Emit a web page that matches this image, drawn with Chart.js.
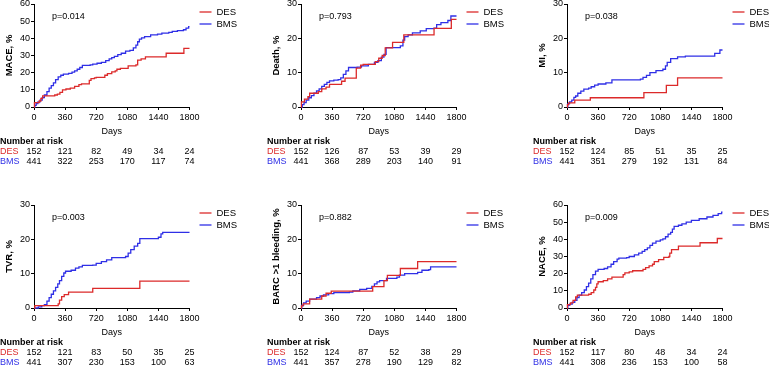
<!DOCTYPE html>
<html>
<head>
<meta charset="utf-8">
<script src="https://cdn.jsdelivr.net/npm/chart.js@4.4.1/dist/chart.umd.min.js"></script>
<style>
  html, body { margin: 0; padding: 0; background: #fff; overflow: hidden; }
  body { width: 769px; height: 367px; position: relative; }
  canvas { position: absolute; }
</style>
</head>
<body>
<canvas id="mace" width="256" height="170" style="left:0px;top:0px"></canvas>
<canvas id="death" width="256" height="170" style="left:267px;top:0px"></canvas>
<canvas id="mi" width="256" height="170" style="left:533px;top:0px"></canvas>
<canvas id="tvr" width="256" height="170" style="left:0px;top:201px"></canvas>
<canvas id="barc" width="256" height="170" style="left:267px;top:201px"></canvas>
<canvas id="nace" width="256" height="170" style="left:533px;top:201px"></canvas>
<script>
const FONT = '"Liberation Sans", Arial, Helvetica, sans-serif';
const RED = '#dc2a2a';
const BLUE = '#2f2fe6';

// x axis ticks (days), also the columns of the number-at-risk table
const dayTicks = [0, 360, 720, 1080, 1440, 1800];
const groups = ['DES', 'BMS'];

// cumulative event curves, [day, %] = level reached at that day
const maceDES = [[0,0],[5,2.5],[60,3.5],[80,5],[100,6.5],[240,7],[270,7.5],[300,8.5],[330,10],[370,10.5],[420,11],[470,12],[520,13],[550,13.5],[640,15.5],[660,16.5],[700,17],[720,17.3],[820,18.5],[850,19.5],[900,20.5],[940,21],[960,22],[1000,22.5],[1090,24],[1180,24.5],[1200,27.3],[1240,28],[1290,29.2],[1530,31.3],[1735,34.2],[1800,34.2]];
const maceBMS = [[0,0],[10,1],[25,2],[45,3],[70,4],[95,5.5],[120,7],[150,9],[175,11],[200,12.5],[225,14],[250,16],[280,17.5],[310,18.5],[340,19.2],[400,19.6],[440,20.3],[470,21],[500,22],[530,23],[560,24.3],[650,24.5],[680,25],[730,25.5],[780,26],[830,27],[870,28],[900,28.8],[930,29.5],[970,30.5],[1010,31.3],[1060,32.5],[1110,33],[1150,34.5],[1180,36],[1200,38],[1220,39.5],[1245,40.3],[1280,41],[1350,42],[1430,42.5],[1480,43],[1560,43.5],[1600,44],[1660,44.5],[1730,45],[1760,46],[1790,46.8],[1800,46.8]];

const deathDES = [[0,0],[5,1.5],[40,2.3],[80,3],[100,4],[200,4.5],[240,5.3],[290,5.8],[330,6.6],[470,7.5],[510,8.4],[640,11.3],[690,12.2],[720,12.4],[860,13.2],[900,14.2],[940,15],[975,17.2],[1060,18.8],[1190,21],[1540,22.9],[1740,25.5],[1800,25.5]];
const deathBMS = [[0,0],[15,0.7],[35,1.3],[60,2],[90,2.7],[120,3.3],[150,4],[180,4.7],[210,5.3],[240,6],[270,6.6],[300,7.2],[330,7.6],[380,7.8],[430,8],[460,8.5],[490,9.5],[520,10.5],[550,11.5],[650,11.6],[700,12],[780,12.4],[850,13],[890,13.5],[930,14.5],[960,15.3],[985,17.3],[1150,17.8],[1180,19.5],[1200,20.5],[1240,21],[1290,21.6],[1380,22.2],[1450,22.8],[1540,23],[1570,24],[1620,24.6],[1700,25.2],[1735,26.5],[1800,26.5]];

const miDES = [[0,0],[5,0.7],[20,1.2],[90,2],[270,2.7],[890,4.2],[1150,6.3],[1280,8.5],[1800,8.5]];
const miBMS = [[0,0],[10,1],[30,1.5],[55,2],[80,2.8],[100,3.2],[125,4],[160,4.6],[195,5.2],[250,5.5],[280,5.9],[320,6.4],[360,6.7],[450,7],[520,7.9],[850,8.1],[880,8.6],[920,9.2],[960,10],[1030,10.6],[1110,11],[1140,12],[1160,13],[1200,14.1],[1280,14.6],[1370,14.8],[1710,15.6],[1770,16.6],[1800,16.6]];

const tvrDES = [[0,0],[10,0.7],[280,1.2],[295,2.3],[320,3.3],[350,3.9],[400,4.6],[680,5.7],[1225,7.8],[1800,7.8]];
const tvrBMS = [[0,0],[50,0.3],[90,0.7],[120,1],[150,2],[175,3],[200,4],[225,5],[250,6],[275,7],[295,8],[320,9.2],[345,10.2],[365,10.7],[430,11],[480,11.6],[520,12],[560,12.4],[680,12.5],[720,13],[780,13.5],[840,14],[900,14.7],[1060,15],[1090,16],[1120,17],[1160,18],[1200,18.8],[1225,20.2],[1440,20.6],[1470,21.6],[1490,22],[1800,22]];

const barcDES = [[0,0],[5,0.6],[25,1.2],[100,2.6],[240,3.5],[290,4.3],[350,4.9],[830,6.2],[960,8],[1000,9.5],[1150,11.5],[1350,13.5],[1800,13.5]];
const barcBMS = [[0,0],[10,0.8],[30,1.5],[60,2],[100,2.6],[180,3],[220,3.5],[260,3.8],[320,4.2],[380,4.5],[560,4.6],[600,5],[680,5.4],[760,5.7],[820,6.3],[850,7],[880,7.6],[910,8],[990,8.6],[1110,9],[1140,9.6],[1200,10],[1350,10.4],[1400,11],[1480,11.2],[1500,12],[1800,12]];

const naceDES = [[0,0],[5,2],[40,3],[70,4.5],[100,6.5],[120,7.5],[250,8],[280,9],[310,10.5],[330,12],[345,14],[360,15.3],[420,16],[470,17],[520,18],[650,19.5],[670,20.5],[720,21],[760,21.7],[880,22.5],[910,23.5],[950,24.5],[990,25.5],[1010,27],[1060,28.2],[1120,29.5],[1180,30],[1190,32],[1210,34],[1290,36],[1540,38],[1740,40.5],[1800,40.5]];
const naceBMS = [[0,0],[10,1.5],[30,2.3],[60,3.3],[90,4.5],[115,6],[140,7.5],[170,9],[200,10.5],[225,12.5],[250,14.5],[275,17],[300,19.5],[330,21.5],[360,22.5],[430,23],[470,24],[510,25.5],[540,27],[580,28.5],[600,29],[690,29.3],[720,30],[780,31],[830,32],[870,33],[900,34],[930,35],[960,36.5],[990,37.8],[1030,39],[1080,39.7],[1110,40.3],[1140,41.5],[1170,43],[1200,44],[1220,46],[1240,47.5],[1290,48.2],[1330,49],[1380,50],[1440,51],[1530,52],[1620,53],[1690,54],[1750,55],[1790,55.8],[1800,55.8]];

// number at risk at each dayTicks column
const maceRiskDES = [152, 121, 82, 49, 34, 24];
const maceRiskBMS = [441, 322, 253, 170, 117, 74];
const deathRiskDES = [152, 126, 87, 53, 39, 29];
const deathRiskBMS = [441, 368, 289, 203, 140, 91];
const miRiskDES = [152, 124, 85, 51, 35, 25];
const miRiskBMS = [441, 351, 279, 192, 131, 84];
const tvrRiskDES = [152, 121, 83, 50, 35, 25];
const tvrRiskBMS = [441, 307, 230, 153, 100, 63];
const barcRiskDES = [152, 124, 87, 52, 38, 29];
const barcRiskBMS = [441, 357, 278, 190, 129, 82];
const naceRiskDES = [152, 117, 80, 48, 34, 24];
const naceRiskBMS = [441, 308, 236, 153, 100, 58];

const yTitles = ['MACE, %', 'Death, %', 'MI, %', 'TVR, %', 'BARC >1 bleeding, %', 'NACE, %'];
const pValues = ['p=0.014', 'p=0.793', 'p=0.038', 'p=0.003', 'p=0.882', 'p=0.009'];
const yMaxes = [60, 30, 30, 30, 30, 60];

// p value, legend and the number-at-risk table, placed from the chart scales
const kmExtras = {
    id: 'kmExtras',
    afterDraw(chart, args, opts) {
        const ctx = chart.ctx;
        const area = chart.chartArea;
        const xs = chart.scales.x;
        ctx.save();
        ctx.textBaseline = 'middle';
        ctx.textAlign = 'left';
        ctx.fillStyle = '#000';
        ctx.font = '9px ' + FONT;
        ctx.fillText(opts.pText, area.left + 18, area.top + 13);

        chart.data.datasets.forEach(function (ds, i) {
            let y = area.top + 8 + i * 12;
            ctx.strokeStyle = ds.borderColor;
            ctx.lineWidth = 1.3;
            ctx.beginPath();
            ctx.moveTo(area.right + 10, y);
            ctx.lineTo(area.right + 22, y);
            ctx.stroke();
            ctx.fillStyle = '#000';
            ctx.font = '9.5px ' + FONT;
            ctx.fillText(ds.label, area.right + 27, y);
        });

        let left = area.left - 34;
        ctx.font = 'bold 9px ' + FONT;
        ctx.fillStyle = '#000';
        ctx.fillText('Number at risk', left, area.bottom + 35);
        opts.risk.forEach(function (row, i) {
            let y = area.bottom + 45 + i * 10;
            let color = chart.data.datasets[i].borderColor;
            ctx.textAlign = 'left';
            ctx.font = '9px ' + FONT;
            ctx.fillStyle = color;
            ctx.fillText(groups[i], left, y);
            ctx.fillStyle = '#000';
            ctx.textAlign = 'center';
            row.forEach(function (n, j) {
                ctx.fillText(String(n), xs.getPixelForValue(dayTicks[j]), y);
            });
        });
        ctx.restore();
    }
};

function toPoints(series) {
    return series.map(function (p) { return {x: p[0], y: p[1]}; });
}

function makePanel(id, idx, desSeries, bmsSeries, riskDES, riskBMS) {
    let makeSet = function (label, series, color) {
        return {
            label: label,
            data: toPoints(series),
            borderColor: color,
            backgroundColor: color,
            borderWidth: 1.3,
            stepped: true,
            pointRadius: 0,
            fill: false,
            clip: 3
        };
    };
    return new Chart(document.getElementById(id), {
        type: 'line',
        data: {
            datasets: [makeSet(groups[0], desSeries, RED), makeSet(groups[1], bmsSeries, BLUE)]
        },
        options: {
            responsive: false,
            animation: false,
            devicePixelRatio: 1,
            layout: {padding: {left: 0, right: 66.5, top: 4, bottom: 33}},
            plugins: {
                legend: {display: false},
                tooltip: {enabled: false},
                kmExtras: {pText: pValues[idx], risk: [riskDES, riskBMS]}
            },
            scales: {
                x: {
                    type: 'linear',
                    min: 0,
                    max: 1800,
                    afterBuildTicks: function (scale) {
                        scale.ticks = dayTicks.map(function (v) { return {value: v}; });
                    },
                    afterFit: function (scale) {
                        scale.height = 30;
                        scale.paddingLeft = 0;
                        scale.paddingRight = 0;
                    },
                    grid: {display: true, drawOnChartArea: false, drawTicks: true, tickLength: 3, color: '#000', lineWidth: 1},
                    border: {display: true, color: '#000', width: 1},
                    ticks: {color: '#000', font: {family: FONT, size: 9}, padding: 2, maxRotation: 0, autoSkip: false,
                        callback: function (v) { return String(v); }},
                    title: {display: true, text: 'Days', color: '#000', font: {family: FONT, size: 9}, padding: {top: 0, bottom: 0}}
                },
                y: {
                    type: 'linear',
                    min: 0,
                    max: yMaxes[idx],
                    afterFit: function (scale) {
                        scale.width = 34;
                        scale.paddingTop = 0;
                        scale.paddingBottom = 0;
                    },
                    grid: {display: true, drawOnChartArea: false, drawTicks: true, tickLength: 3, color: '#000', lineWidth: 1},
                    border: {display: true, color: '#000', width: 1},
                    ticks: {stepSize: 10, color: '#000', font: {family: FONT, size: 9}, padding: 1,
                        callback: function (v) { return String(v); }},
                    title: {display: true, text: yTitles[idx], color: '#000', font: {family: FONT, size: 9.5, weight: 'bold'}, padding: {top: 4, bottom: 0}}
                }
            }
        },
        plugins: [kmExtras]
    });
}

makePanel('mace', 0, maceDES, maceBMS, maceRiskDES, maceRiskBMS);
makePanel('death', 1, deathDES, deathBMS, deathRiskDES, deathRiskBMS);
makePanel('mi', 2, miDES, miBMS, miRiskDES, miRiskBMS);
makePanel('tvr', 3, tvrDES, tvrBMS, tvrRiskDES, tvrRiskBMS);
makePanel('barc', 4, barcDES, barcBMS, barcRiskDES, barcRiskBMS);
makePanel('nace', 5, naceDES, naceBMS, naceRiskDES, naceRiskBMS);
</script>
</body>
</html>
